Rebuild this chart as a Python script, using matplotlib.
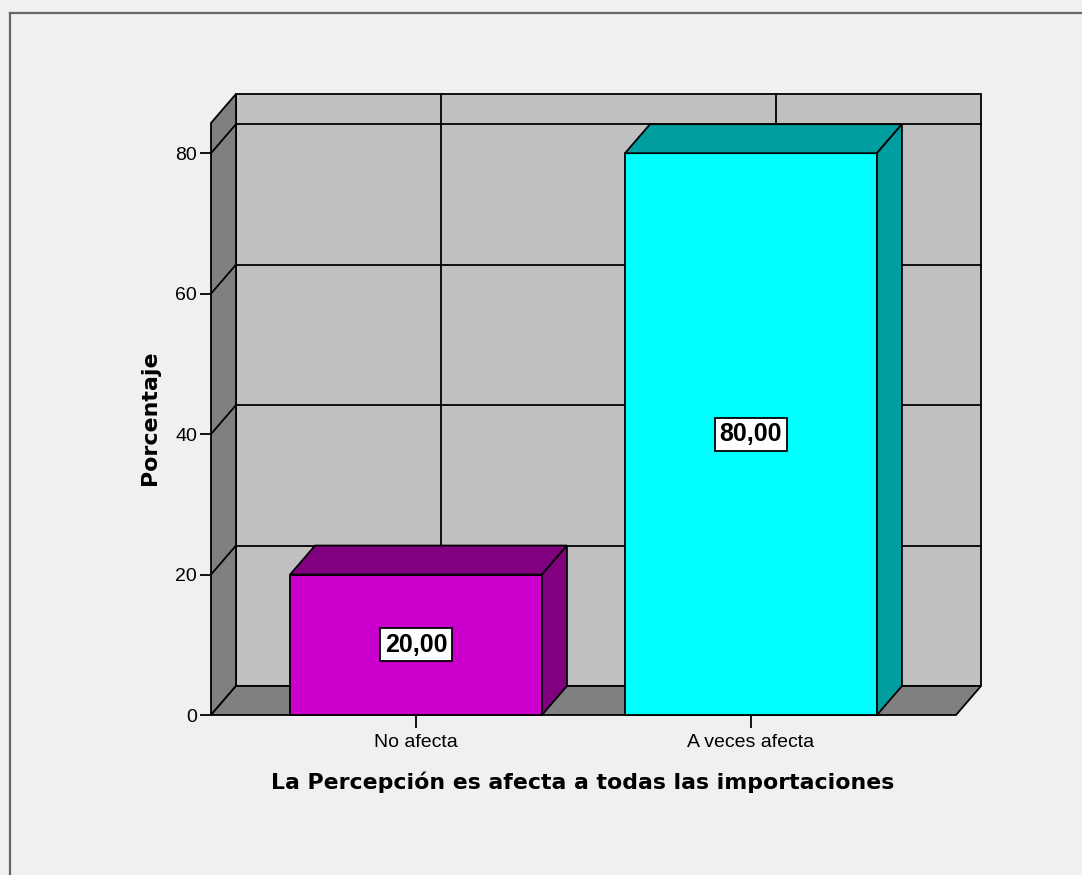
import matplotlib.pyplot as plt
from matplotlib.patches import Polygon, Rectangle
from matplotlib.lines import Line2D

# Data
categories = ['No afecta', 'A veces afecta']
values = [20.0, 80.0]
front_colors = ['#CC00CC', '#00FFFF']
dark_colors = ['#800080', '#009E9E']
y_ticks = [0, 20, 40, 60, 80]

# Chart layout (data units)
x_min, x_max = -0.612, 1.612
y_max = 84.3
dx, dy = 0.0746, 4.13      # 3D depth offset
bar_w = 0.752
lw = 1.3

fig = plt.figure(figsize=(10.82, 8.75), dpi=100, facecolor='#F0F0F0')
ax = fig.add_axes([211 / 1082, 160 / 875, 745 / 1082, 592 / 875])
ax.set_facecolor('none')
ax.set_xlim(x_min, x_max)
ax.set_ylim(0, y_max)
for s in ax.spines.values():
    s.set_visible(False)

edge = dict(edgecolor='black', linewidth=lw, clip_on=False)

# Back wall
ax.add_patch(Rectangle((x_min + dx, dy), x_max - x_min, y_max, facecolor='#C0C0C0', zorder=1, **edge))
# Left wall and floor
ax.add_patch(Polygon([(x_min, 0), (x_min + dx, dy), (x_min + dx, y_max + dy), (x_min, y_max)],
                     facecolor='#808080', zorder=2, **edge))
ax.add_patch(Polygon([(x_min, 0), (x_max, 0), (x_max + dx, dy), (x_min + dx, dy)],
                     facecolor='#808080', zorder=2, **edge))

# Grid lines on the walls
for t in y_ticks[1:]:
    ax.plot([x_min + dx, x_max + dx], [t + dy, t + dy], color='black', lw=lw, zorder=1.5, clip_on=False)
    ax.plot([x_min, x_min + dx], [t, t + dy], color='black', lw=lw, zorder=2.5, clip_on=False)
for i in range(len(categories)):
    ax.plot([i + dx, i + dx], [dy, y_max + dy], color='black', lw=lw, zorder=1.5, clip_on=False)

# 3D bars
for i, (v, fc, dc) in enumerate(zip(values, front_colors, dark_colors)):
    x0, x1 = i - bar_w / 2, i + bar_w / 2
    ax.add_patch(Rectangle((x0, 0), bar_w, v, facecolor=fc, zorder=3, **edge))
    ax.add_patch(Polygon([(x0, v), (x1, v), (x1 + dx, v + dy), (x0 + dx, v + dy)],
                         facecolor=dc, zorder=3, **edge))
    ax.add_patch(Polygon([(x1, 0), (x1 + dx, dy), (x1 + dx, v + dy), (x1, v)],
                         facecolor=dc, zorder=3, **edge))
    ax.text(i, v / 2, f'{v:.2f}'.replace('.', ','), ha='center', va='center',
            fontsize=18, fontweight='bold', family='Liberation Sans', zorder=4,
            bbox=dict(boxstyle='square,pad=0.18', facecolor='white', edgecolor='black', linewidth=lw))

# Axes ticks and labels
ax.set_xticks(range(len(categories)))
ax.set_xticklabels(categories, family='Liberation Sans', fontsize=14)
ax.set_yticks(y_ticks)
ax.set_yticklabels([str(t) for t in y_ticks], family='Liberation Sans', fontsize=14)
ax.tick_params(axis='x', length=9, width=lw, pad=5)
ax.tick_params(axis='y', length=8, width=lw, pad=2)

ax.set_xlabel('La Percepción es afecta a todas las importaciones', fontsize=15.8,
              fontweight='bold', family='DejaVu Sans')
ax.xaxis.set_label_coords(0.4993, -0.096)
ax.set_ylabel('Porcentaje', fontsize=15.9, fontweight='bold', family='DejaVu Sans')
ax.yaxis.set_label_coords(-0.068, 0.502)

# Outer frame
fig.add_artist(Line2D([10 / 1082, 10 / 1082], [0, 862 / 875], color='#666666', lw=1.6))
fig.add_artist(Line2D([10 / 1082, 1], [862 / 875, 862 / 875], color='#666666', lw=1.6))

fig.savefig('out.png', dpi=100, facecolor=fig.get_facecolor())
